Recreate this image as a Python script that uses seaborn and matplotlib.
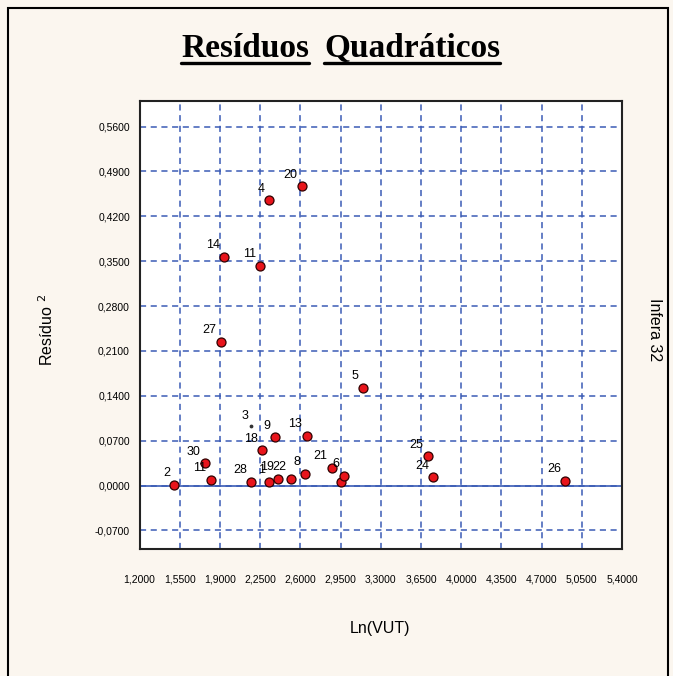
import numpy as np
import pandas as pd
import seaborn as sns
import matplotlib
matplotlib.use("Agg")
import matplotlib.pyplot as plt
from matplotlib.lines import Line2D
from matplotlib.patches import Rectangle

# ---- data ----
labels = ["2", "30", "11", "27", "14", "28", "11", "18", "4", "1", "9", "19",
          "22", "20", "8", "13", "21", "", "6", "5", "25", "24", "26"]
ln_vut = [1.502, 1.769, 1.819, 1.908, 1.937, 2.170, 2.248, 2.263, 2.326, 2.326,
          2.378, 2.407, 2.515, 2.611, 2.640, 2.654, 2.872, 2.950, 2.979, 3.142,
          3.707, 3.756, 4.908]
residuo2 = [0.001, 0.0345, 0.0088, 0.2246, 0.357, 0.0062, 0.343, 0.055, 0.445,
            0.0062, 0.0756, 0.0103, 0.0103, 0.467, 0.018, 0.078, 0.028, 0.0062,
            0.0154, 0.1526, 0.0458, 0.013, 0.0072]
extra_label = "3"
extra_x = [2.170]
extra_y = [0.0925]

x_ticks = [1.20, 1.55, 1.90, 2.25, 2.60, 2.95, 3.30, 3.65, 4.00, 4.35, 4.70, 5.05, 5.40]
y_ticks = [-0.07, 0.0, 0.07, 0.14, 0.21, 0.28, 0.35, 0.42, 0.49, 0.56]

title_words = ["Resíduos", "Quadráticos"]
x_label = "Ln(VUT)"
y_label = "Resíduo $^{2}$"
side_label = "Infera 32"

df = pd.DataFrame({"x": ln_vut, "y": residuo2, "label": labels})

# ---- style ----
sns.set_style("white")
plt.rcParams["font.family"] = ["Liberation Sans", "DejaVu Sans"]
plt.rcParams["text.color"] = "black"
plt.rcParams["xtick.color"] = "black"
plt.rcParams["ytick.color"] = "black"
plt.rcParams["xtick.labelcolor"] = "black"
plt.rcParams["ytick.labelcolor"] = "black"

BG = "#FBF6EF"
GRID = "#3A5BB5"

fig = plt.figure(figsize=(6.73, 6.76), dpi=100, facecolor=BG)
ax = fig.add_axes([139.6 / 673, 1 - 549.3 / 676, (622.0 - 139.6) / 673, (549.3 - 101) / 676])
ax.set_facecolor("white")

ax.set_xlim(1.2, 5.4)
ax.set_ylim(-0.0995, 0.6)
ax.set_xticks(x_ticks)
ax.set_yticks(y_ticks)
ax.set_xticklabels([f"{v:.4f}".replace(".", ",") for v in x_ticks], fontsize=7.5)
ax.set_yticklabels([f"{v:.4f}".replace(".", ",") for v in y_ticks], fontsize=7.5)
ax.tick_params(axis="x", direction="out", length=5, width=1, color="#333333", pad=13)
ax.tick_params(axis="y", direction="out", length=4, width=1, color="#333333", pad=3)

ax.grid(True, color=GRID, linestyle=(0, (4, 3)), linewidth=1.1)
ax.axhline(0, color=GRID, linewidth=1.2, linestyle="-", zorder=2)

for side in ["left", "bottom", "top", "right"]:
    ax.spines[side].set_color("#222222")
    ax.spines[side].set_linewidth(1.5)
    ax.spines[side].set_visible(True)

sns.scatterplot(data=df, x="x", y="y", ax=ax, color="#E8141B", edgecolor="#300000",
                linewidth=0.9, s=42, marker="o", zorder=4, legend=False)
ax.scatter(extra_x, extra_y, s=3, color="#333333", zorder=4)

for lx, ly, lt in zip(ln_vut, residuo2, labels):
    if lt:
        ax.annotate(lt, (lx, ly), xytext=(-3, 4), textcoords="offset points",
                    ha="right", va="bottom", fontsize=9, color="black", zorder=5)
ax.annotate(extra_label, (extra_x[0], extra_y[0]), xytext=(-2, 3), textcoords="offset points",
            ha="right", va="bottom", fontsize=9, color="black", zorder=5)

ax.set_xlabel("")
ax.set_ylabel("")

fig.text(380 / 673, 1 - 628 / 676, x_label, ha="center", va="center", fontsize=11.5)
fig.text(47 / 673, 1 - 330 / 676, y_label, ha="center", va="center", fontsize=11.5, rotation=90)
fig.text(655 / 673, 1 - 330 / 676, side_label, ha="center", va="center", fontsize=11.5, rotation=270)

# outer frame
fig.patches.append(Rectangle((8 / 673, -0.05), (668 - 8) / 673, 1 - 8 / 676 + 0.05,
                             transform=fig.transFigure, fill=False, edgecolor="black",
                             linewidth=1.5, zorder=0))

# title with underlined words
cx = 316.5 / 673
ty = 1 - 57 / 676
gap = 15 / 673
t1 = fig.text(cx - gap / 2, ty, title_words[0], ha="right", va="baseline",
              fontsize=24, fontweight="bold", family="Liberation Serif", color="black")
t2 = fig.text(cx + gap / 2, ty, title_words[1], ha="left", va="baseline",
              fontsize=24, fontweight="bold", family="Liberation Serif", color="black")
fig.canvas.draw()
r = fig.canvas.get_renderer()
inv = fig.transFigure.inverted()
for t in (t1, t2):
    bb = t.get_window_extent(r)
    (x0, _), (x1, _) = inv.transform([(bb.x0, 0), (bb.x1, 0)])
    uy = ty - 6 / 676
    fig.lines.append(Line2D([x0, x1], [uy, uy], transform=fig.transFigure,
                            color="black", linewidth=2.4))

fig.savefig("out.png", dpi=100, facecolor=BG)
